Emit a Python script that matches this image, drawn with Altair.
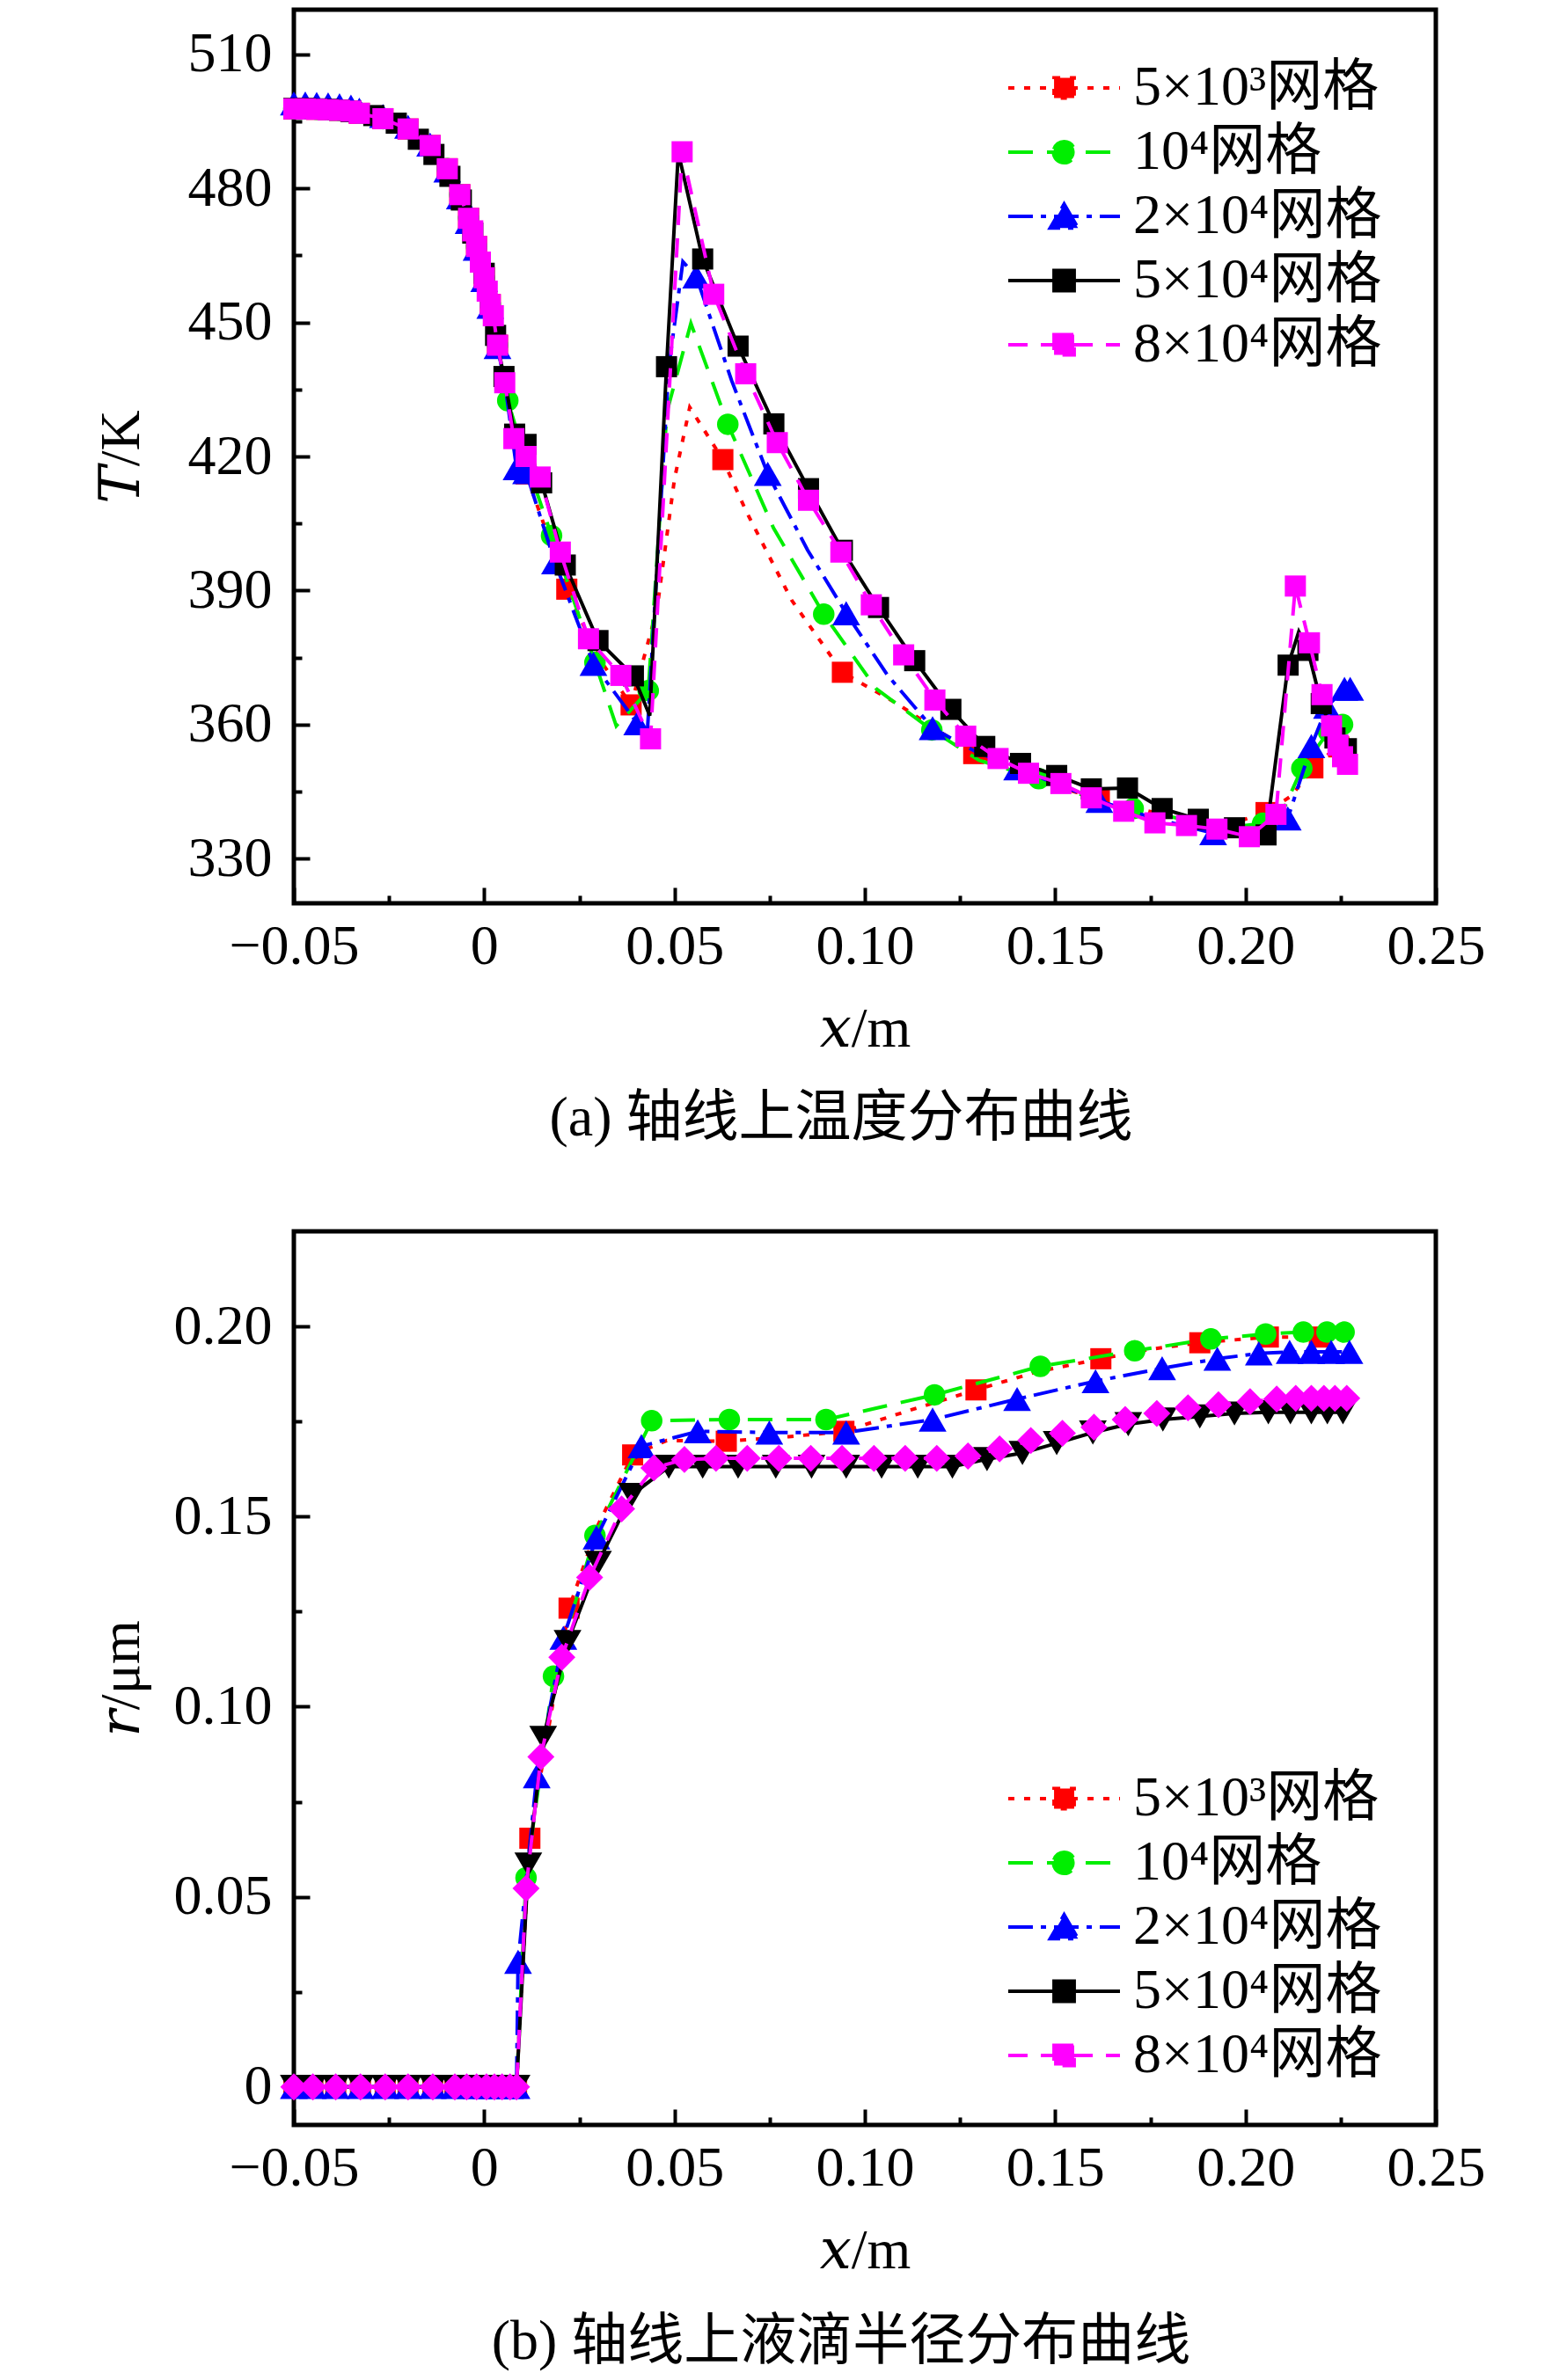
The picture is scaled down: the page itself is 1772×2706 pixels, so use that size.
import altair as alt
import pandas as pd

# ---------------- shared series definitions ----------------
SERIES = ["5×10³网格", "10⁴网格", "2×10⁴网格", "5×10⁴网格", "8×10⁴网格"]
COLORS = ["#ff0000", "#00ee00", "#0000ff", "#000000", "#ff00ff"]
DASHES = [[7, 11], [28, 16], [28, 9, 6, 9], None, [22, 15]]
LEG_DASHES = [[7, 11], [28, 16], [28, 9, 6, 9], [1, 0], [22, 15]]

# ---------------- panel (a): temperature on axis ----------------
A_RED_X = [-0.050, -0.047, -0.044, -0.041, -0.038, -0.035, -0.0328, -0.0266, -0.020, -0.0142, -0.0097, -0.0064, -0.0041, -0.002, 0.0, 0.0016, 0.0035,
           0.0060, 0.0110, 0.0217, 0.0300, 0.0386, 0.0454, 0.0500, 0.0540, 0.0627, 0.0689, 0.0808, 0.0941, 0.1088, 0.1168, 0.1286, 0.1450, 0.1616, 0.1800, 0.1950, 0.2054, 0.2120, 0.2177, 0.2220, 0.2245]
A_RED_T = [497.8, 497.8, 497.7, 497.6, 497.5, 497.3, 496.8, 495.6, 493.3, 489.6, 484.4, 478.6, 473.3, 467.0, 460.0, 454.0, 444.9,
           433.0, 416.1, 390.3, 375.0, 364.4, 385.8, 415.0, 431.0, 419.3, 407.6, 387.8, 371.7, 364.5, 360.0, 353.5, 347.5, 343.3, 339.5, 337.5, 340.3, 344.0, 350.3, 353.5, 355.0]
A_RED_M = [1, 1, 1, 1, 1, 1, 1, 1, 1, 1, 1, 1, 1, 1, 1, 1, 1,
           0, 1, 1, 0, 1, 0, 0, 0, 1, 0, 0, 1, 0, 0, 1, 0, 1, 0, 0, 1, 0, 1, 0, 1]

A_GRN_X = [-0.050, -0.047, -0.044, -0.041, -0.038, -0.035, -0.0328, -0.0266, -0.020, -0.0142, -0.0097, -0.0064, -0.0041, -0.002, 0.0, 0.0016, 0.0035,
           0.0062, 0.0110, 0.0177, 0.0291, 0.0347, 0.0431, 0.0480, 0.0543, 0.0640, 0.0760, 0.0892, 0.1030, 0.1176, 0.1300, 0.1457, 0.1580, 0.1705, 0.1850, 0.1960, 0.2045, 0.2100, 0.2148, 0.2218, 0.2255]
A_GRN_T = [497.8, 497.8, 497.7, 497.6, 497.5, 497.3, 496.8, 495.6, 493.3, 489.6, 484.4, 478.6, 473.3, 467.0, 460.0, 454.0, 444.9,
           432.5, 419.0, 402.3, 373.9, 359.7, 367.6, 430.0, 449.8, 427.2, 404.0, 384.7, 368.0, 358.8, 352.0, 347.9, 344.0, 341.2, 338.5, 337.0, 337.9, 341.0, 350.2, 358.4, 360.0]
A_GRN_M = [1, 1, 1, 1, 1, 1, 1, 1, 1, 1, 1, 1, 1, 1, 1, 1, 1,
           1, 0, 1, 1, 0, 1, 0, 0, 1, 0, 1, 0, 1, 0, 1, 0, 1, 0, 0, 1, 0, 1, 1, 1]

A_BLU_X = [-0.050, -0.047, -0.044, -0.041, -0.038, -0.035, -0.0328, -0.0266, -0.020, -0.0142, -0.0097, -0.0064, -0.0041, -0.002, 0.0, 0.0016, 0.0035,
           0.0055, 0.0085, 0.0110, 0.0186, 0.0287, 0.0402, 0.0429, 0.0485, 0.0522, 0.0557, 0.0650, 0.0745, 0.0850, 0.0951, 0.1060, 0.1178, 0.1290, 0.1400, 0.1510, 0.1616, 0.1760, 0.1915, 0.2050, 0.2111, 0.2173, 0.2214, 0.2260, 0.2275]
A_BLU_T = [499.0, 499.0, 498.9, 498.8, 498.6, 498.3, 497.6, 496.2, 493.8, 489.8, 484.0, 478.0, 472.5, 466.5, 459.5, 453.5, 444.5,
           436.0, 417.4, 416.5, 396.3, 373.6, 360.3, 358.8, 440.0, 463.6, 460.3, 437.0, 416.1, 399.0, 384.9, 371.0, 359.2, 354.0, 350.2, 346.5, 342.9, 339.0, 335.7, 337.0, 339.0, 355.2, 364.0, 368.0, 368.0]
A_BLU_M = [1, 1, 1, 1, 1, 1, 1, 1, 1, 1, 1, 1, 1, 1, 1, 1, 1,
           0, 1, 1, 1, 1, 1, 0, 0, 0, 1, 0, 1, 0, 1, 0, 1, 0, 1, 0, 1, 0, 1, 0, 1, 1, 1, 1, 1]

A_BLK_X = [-0.050, -0.047, -0.044, -0.041, -0.038, -0.035, -0.029, -0.0231, -0.0173, -0.0132, -0.009, -0.006, -0.003, 0.0, 0.003, 0.0052, 0.0080,
           0.0110, 0.0151, 0.0213, 0.0299, 0.0392, 0.0435, 0.0479, 0.0510, 0.0574, 0.0667, 0.0761, 0.0852, 0.0941, 0.1036, 0.1131, 0.1226, 0.1315,
           0.1409, 0.1504, 0.1595, 0.1690, 0.1781, 0.1876, 0.1971, 0.2054, 0.2112, 0.2140, 0.2164, 0.2199, 0.2235, 0.2265]
A_BLK_T = [497.9, 497.9, 497.8, 497.7, 497.5, 497.2, 496.3, 494.6, 491.0, 487.6, 482.7, 477.4, 470.0, 461.0, 447.1, 437.9, 425.0,
           422.7, 414.1, 395.7, 378.8, 370.9, 362.0, 440.1, 488.0, 464.2, 444.7, 427.3, 412.8, 399.0, 386.2, 374.3, 363.4, 355.1,
           351.3, 348.6, 345.6, 345.8, 341.2, 338.8, 336.9, 335.3, 373.3, 380.8, 376.6, 364.7, 357.0, 354.6]
A_BLK_M = [1, 1, 1, 1, 1, 1, 1, 1, 1, 1, 1, 1, 1, 1, 1, 1, 1,
           1, 1, 1, 1, 1, 0, 1, 0, 1, 1, 1, 1, 1, 1, 1, 1, 1,
           1, 1, 1, 1, 1, 1, 1, 1, 1, 0, 1, 1, 1, 1]

A_MAG_X = [-0.050, -0.047, -0.044, -0.041, -0.038, -0.035, -0.0328, -0.0266, -0.020, -0.0142, -0.0097, -0.0064, -0.0041, -0.003, -0.002, -0.001,
           0.0, 0.0008, 0.0016, 0.0024, 0.0035, 0.0054, 0.0078, 0.0110, 0.0147, 0.0200, 0.0274, 0.0359, 0.0437, 0.0520, 0.0603, 0.0687, 0.0770,
           0.0852, 0.0937, 0.1017, 0.1102, 0.1184, 0.1265, 0.1350, 0.1430, 0.1515, 0.1595, 0.1680, 0.1762, 0.1845, 0.1925, 0.2010, 0.2080,
           0.2131, 0.2168, 0.2201, 0.2226, 0.2243, 0.2255, 0.2268]
A_MAG_T = [497.8, 497.8, 497.7, 497.6, 497.5, 497.3, 496.8, 495.6, 493.3, 489.6, 484.4, 478.6, 473.3, 470.5, 467.0, 463.5,
           460.0, 457.0, 454.0, 451.5, 444.9, 436.5, 424.0, 420.0, 415.4, 398.6, 379.2, 371.0, 356.8, 488.2, 456.3, 438.5, 423.1,
           410.2, 398.6, 386.8, 375.6, 365.5, 357.4, 352.4, 349.1, 346.8, 343.6, 340.6, 338.0, 337.4, 336.6, 334.9, 339.9,
           391.0, 378.3, 366.7, 359.7, 355.4, 352.8, 351.1]

A_X_MAJOR = [-0.05, 0, 0.05, 0.10, 0.15, 0.20, 0.25]
A_X_MINOR = [-0.025, 0.025, 0.075, 0.125, 0.175, 0.225]
A_Y_MAJOR = [330, 360, 390, 420, 450, 480, 510]
A_Y_MINOR = [345, 375, 405, 435, 465, 495]

# ---------------- panel (b): droplet radius on axis ----------------
B_RED_X = [-0.050, -0.045, -0.039, -0.0325, -0.026, -0.020, -0.0135, -0.0077, -0.0046, -0.002, 0.0006, 0.0027, 0.0047, 0.0068, 0.0085,
           0.0100, 0.0120, 0.0223, 0.0300, 0.0390, 0.0480, 0.0636, 0.0800, 0.0945, 0.1120, 0.1292, 0.1450, 0.1620, 0.1750, 0.1880, 0.2060, 0.2194]
B_RED_R = [0, 0, 0, 0, 0, 0, 0, 0, 0, 0, 0, 0, 0, 0, 0,
           0.030, 0.0654, 0.1259, 0.1480, 0.1662, 0.1700, 0.1698, 0.1710, 0.1724, 0.1780, 0.1833, 0.1880, 0.1915, 0.1940, 0.1957, 0.1972, 0.1972]
B_RED_M = [1, 1, 1, 1, 1, 1, 1, 1, 1, 1, 1, 1, 1, 1, 1,
           0, 1, 1, 0, 1, 0, 1, 0, 1, 0, 1, 0, 1, 0, 1, 1, 1]

B_GRN_X = [-0.050, -0.045, -0.039, -0.0325, -0.026, -0.020, -0.0135, -0.0077, -0.0046, -0.002, 0.0006, 0.0027, 0.0047, 0.0068, 0.0085,
           0.0110, 0.0182, 0.0291, 0.0440, 0.0644, 0.0898, 0.1183, 0.1461, 0.1709, 0.1909, 0.2053, 0.2152, 0.2214, 0.2259]
B_GRN_R = [0, 0, 0, 0, 0, 0, 0, 0, 0, 0, 0, 0, 0, 0, 0,
           0.055, 0.108, 0.145, 0.1752, 0.1755, 0.1755, 0.182, 0.1895, 0.1936, 0.1967, 0.198, 0.1985, 0.1985, 0.1985]

B_BLU_X = [-0.050, -0.045, -0.039, -0.0325, -0.026, -0.020, -0.0135, -0.0077, -0.0046, -0.002, 0.0006, 0.0027, 0.0047, 0.0068, 0.0085,
           0.0089, 0.0138, 0.0208, 0.0295, 0.0413, 0.0561, 0.0749, 0.0951, 0.1178, 0.1400, 0.1606, 0.1781, 0.1926, 0.2035, 0.2116, 0.2173, 0.2225, 0.2273]
B_BLU_R = [0, 0, 0, 0, 0, 0, 0, 0, 0, 0, 0, 0, 0, 0, 0,
           0.0329, 0.0817, 0.1181, 0.1445, 0.1685, 0.1724, 0.1721, 0.1721, 0.1755, 0.1809, 0.1856, 0.1890, 0.1915, 0.1929, 0.1933, 0.1933, 0.1933, 0.1933]

B_BLK_X = [-0.050, -0.045, -0.039, -0.0325, -0.026, -0.020, -0.0135, -0.0077, -0.0046, -0.002, 0.0006, 0.0027, 0.0047, 0.0068, 0.0085,
           0.0116, 0.0155, 0.0219, 0.0299, 0.0388, 0.0485, 0.0574, 0.0667, 0.0766, 0.0860, 0.0951, 0.1044, 0.1139, 0.1230, 0.1321, 0.1414,
           0.1504, 0.1599, 0.1692, 0.1783, 0.1880, 0.1971, 0.2060, 0.2118, 0.2173, 0.2215, 0.2256]
B_BLK_R = [0, 0, 0, 0, 0, 0, 0, 0, 0, 0, 0, 0, 0, 0, 0,
           0.0585, 0.0918, 0.1170, 0.1378, 0.1557, 0.1631, 0.1631, 0.1631, 0.1631, 0.1631, 0.1631, 0.1631, 0.1631, 0.1631, 0.1651, 0.1667,
           0.1693, 0.1721, 0.1743, 0.1755, 0.1763, 0.1771, 0.1774, 0.1774, 0.1774, 0.1774, 0.1774]

B_MAG_X = [-0.050, -0.045, -0.039, -0.0325, -0.026, -0.020, -0.0135, -0.0077, -0.0046, -0.002, 0.0006, 0.0027, 0.0047, 0.0068, 0.0085,
           0.0110, 0.0149, 0.0204, 0.0277, 0.0361, 0.0446, 0.0526, 0.0609, 0.0691, 0.0774, 0.0858, 0.0940, 0.1024, 0.1106, 0.1189, 0.1271,
           0.1354, 0.1436, 0.1519, 0.1602, 0.1684, 0.1767, 0.1849, 0.1929, 0.2012, 0.2082, 0.2132, 0.2173, 0.2206, 0.2235, 0.2266]
B_MAG_R = [0, 0, 0, 0, 0, 0, 0, 0, 0, 0, 0, 0, 0, 0, 0,
           0.0522, 0.0868, 0.1130, 0.1340, 0.1520, 0.1628, 0.1650, 0.1653, 0.1653, 0.1653, 0.1653, 0.1653, 0.1653, 0.1653, 0.1653, 0.1659,
           0.1678, 0.1700, 0.1719, 0.1735, 0.1755, 0.1771, 0.1786, 0.1794, 0.1802, 0.1809, 0.1811, 0.1811, 0.1811, 0.1811, 0.1811]

B_X_MAJOR = [-0.05, 0, 0.05, 0.10, 0.15, 0.20, 0.25]
B_X_MINOR = [-0.025, 0.025, 0.075, 0.125, 0.175, 0.225]
B_Y_MAJOR = [0, 0.05, 0.10, 0.15, 0.20]
B_Y_MINOR = [0.025, 0.075, 0.125, 0.175]

CAPTION_A = "(a) 轴线上温度分布曲线"
CAPTION_B = "(b) 轴线上液滴半径分布曲线"

# ---------------- styling ----------------
SERIF = "Liberation Serif, DejaVu Serif, Noto Sans CJK SC, serif"
FS = 64
PLOT_W, PLOT_H = 1298, 1016
SHAPES_A = ["square", "circle", "triangle-up", "square", "square"]
SIZES_A = [576, 600, 1000, 576, 576]
SHAPES_B = ["square", "circle", "triangle-up", "triangle-down", "diamond"]
SIZES_B = [576, 600, 1000, 1000, 950]
# legend symbols: a line segment with the marker in its middle
LEG_PATHS = [
    "M-1,0L1,0M-0.18,-0.18L0.18,-0.18L0.18,0.18L-0.18,0.18Z",
    "M-1,0L1,0M-0.19,0A0.19,0.19 0 1,0 0.19,0A0.19,0.19 0 1,0 -0.19,0Z",
    "M-1,0L1,0M0,-0.22L0.25,0.21L-0.25,0.21Z",
    "M-1,0L1,0M-0.18,-0.18L0.18,-0.18L0.18,0.18L-0.18,0.18Z",
    "M-1,0L1,0M-0.18,-0.18L0.18,-0.18L0.18,0.18L-0.18,0.18Z",
]
NUM_EXPR = "datum.value == 0 ? '0' : format(datum.value, '.2f')"


def long_table(xs, ys, ms):
    rows = []
    for k, s in enumerate(SERIES):
        mk = ms[k] if ms[k] is not None else [1] * len(xs[k])
        for j in range(len(xs[k])):
            rows.append({"series": s, "x": xs[k][j], "y": ys[k][j], "m": mk[j]})
    return pd.DataFrame(rows)


def major_axis(values, orient, title, label_padding, title_padding, label_expr=None, extent=None):
    kw = dict(values=values, orient=orient, tickSize={"expr": "-18"}, tickWidth=4, tickColor="black",
              labelFont=SERIF, labelFontSize=FS, labelColor="black", labelPadding=label_padding,
              labelFlush=False, labelOverlap=False, domain=False, grid=False,
              title=title, titleFont=SERIF, titleFontSize=FS, titleFontWeight="normal",
              titleColor="black", titlePadding=title_padding)
    if label_expr is not None:
        kw["labelExpr"] = label_expr
    if extent is not None:
        kw["minExtent"] = extent
        kw["maxExtent"] = extent
    return alt.Axis(**kw)


def minor_axis(values, orient):
    return alt.Axis(values=values, orient=orient, tickSize={"expr": "-9"}, tickWidth=4, tickColor="black",
                    labels=False, domain=False, grid=False, title=None)


def panel(df, shapes, sizes, xdom, ydom, xmaj, xmin, ymaj, ymin, ytitle, ylabel_expr, caption, legend_y, cap_offset):
    xsc = alt.Scale(domain=xdom, nice=False, zero=False)
    ysc = alt.Scale(domain=ydom, nice=False, zero=False)
    layers = []
    for k, s in enumerate(SERIES):
        base = alt.Chart(df).transform_filter(alt.datum.series == s)
        if k == 0:
            xl = alt.X("x:Q", scale=xsc, axis=major_axis(xmaj, "bottom", "𝑥/m", 35, 30, NUM_EXPR))
            yl = alt.Y("y:Q", scale=ysc, axis=major_axis(ymaj, "left", ytitle, 43, 24, ylabel_expr, 140))
            xp = alt.X("x:Q", scale=xsc, axis=minor_axis(xmin, "bottom"))
            yp = alt.Y("y:Q", scale=ysc, axis=minor_axis(ymin, "left"))
        else:
            xl = xp = alt.X("x:Q", scale=xsc, axis=None)
            yl = yp = alt.Y("y:Q", scale=ysc, axis=None)
        lk = dict(color=COLORS[k], strokeWidth=4)
        if DASHES[k] is not None:
            lk["strokeDash"] = DASHES[k]
        layers.append(base.mark_line(**lk).encode(x=xl, y=yl))
        layers.append(
            base.transform_filter(alt.datum.m == 1)
            .mark_point(filled=True, shape=shapes[k], size=sizes[k], color=COLORS[k], opacity=1)
            .encode(x=xp, y=yp)
        )
    leg = alt.Legend(orient="none", legendX=810, legendY=legend_y, title=None, padding=0, rowPadding=3,
                     labelFont=SERIF, labelFontSize=FS, labelColor="black", labelLimit=600, labelOffset=13,
                     symbolSize=16129, symbolStrokeWidth=4, clipHeight=70, direction="vertical")
    leg_layer = (
        alt.Chart(pd.DataFrame({"series": SERIES}))
        .transform_filter("false")
        .mark_point(filled=True, opacity=1)
        .encode(
            fill=alt.Fill("series:N", scale=alt.Scale(domain=SERIES, range=COLORS), legend=leg),
            stroke=alt.Stroke("series:N", scale=alt.Scale(domain=SERIES, range=COLORS), legend=leg),
            shape=alt.Shape("series:N", scale=alt.Scale(domain=SERIES, range=LEG_PATHS), legend=leg),
            strokeDash=alt.StrokeDash("series:N", scale=alt.Scale(domain=SERIES, range=LEG_DASHES), legend=leg),
        )
    )
    layers.append(leg_layer)
    return (
        alt.layer(*layers)
        .resolve_axis(x="independent", y="independent")
        .properties(
            width=PLOT_W, height=PLOT_H,
            view=alt.ViewBackground(stroke="black", strokeWidth=5, fill="white"),
            title=alt.TitleParams(text=caption, orient="bottom", anchor="middle", frame="group",
                                  fontSize=FS, font=SERIF, fontWeight="normal", color="black",
                                  baseline="top", offset=cap_offset, dx=-27),
        )
    )


df_a = long_table([A_RED_X, A_GRN_X, A_BLU_X, A_BLK_X, A_MAG_X],
                  [A_RED_T, A_GRN_T, A_BLU_T, A_BLK_T, A_MAG_T],
                  [A_RED_M, A_GRN_M, A_BLU_M, A_BLK_M, None])
df_b = long_table([B_RED_X, B_GRN_X, B_BLU_X, B_BLK_X, B_MAG_X],
                  [B_RED_R, B_GRN_R, B_BLU_R, B_BLK_R, B_MAG_R],
                  [B_RED_M, None, None, None, None])

pa = panel(df_a, SHAPES_A, SIZES_A, [-0.05, 0.25], [320, 520], A_X_MAJOR, A_X_MINOR, A_Y_MAJOR, A_Y_MINOR,
           "𝑇/K", None, CAPTION_A, 54, 38)
pb = panel(df_b, SHAPES_B, SIZES_B, [-0.05, 0.25], [-0.01, 0.225], B_X_MAJOR, B_X_MINOR, B_Y_MAJOR, B_Y_MINOR,
           "𝑟/μm", NUM_EXPR, CAPTION_B, 610, 40)

chart = (
    alt.vconcat(pa, pb, spacing=90)
    .resolve_scale(x="independent", y="independent", fill="independent", stroke="independent",
                   shape="independent", strokeDash="independent")
    .resolve_legend(fill="independent", stroke="independent", shape="independent", strokeDash="independent")
    .properties(padding={"left": 95, "top": 0, "right": 0, "bottom": 0}, background="white")
    .configure_view(stroke="black", strokeWidth=5)
)

chart.save("out.html", embed_options={"renderer": "svg", "actions": False})
